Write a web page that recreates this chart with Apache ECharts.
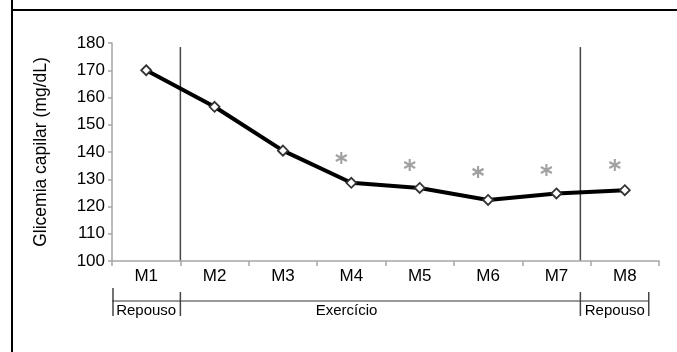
<!DOCTYPE html>
<html>
<head>
<meta charset="utf-8">
<script src="https://cdn.jsdelivr.net/npm/echarts@6/dist/echarts.min.js"></script>
<style>html,body{margin:0;padding:0;background:#fff}#c{width:677px;height:352px}</style>
</head>
<body>
<div id="c"></div>
<script>
var categories = ['M1','M2','M3','M4','M5','M6','M7','M8'];
var glicemia = [170, 156.6, 140.5, 128.7, 126.8, 122.4, 124.8, 126.0];
var asteriskY = [null, null, null, 137.8, 135.2, 132.7, 133.4, 135.2];
var yTicks = {min: 100, max: 180, interval: 10};
var phaseLabels = ['Repouso', 'Exercício', 'Repouso'];
var yTitle = 'Glicemia capilar (mg/dL)';

var chart = echarts.init(document.getElementById('c'), null, {renderer: 'canvas'});
var FONT = 'Liberation Sans';
var asteriskPath = 'path://M0,-5L0,5M-4.33,-2.5L4.33,2.5M-4.33,2.5L4.33,-2.5';

chart.setOption({
  animation: false,
  textStyle: {fontFamily: FONT},
  grid: {left: 112, right: 18, top: 43, bottom: 91},
  xAxis: {
    type: 'category',
    data: categories,
    boundaryGap: true,
    axisLine: {lineStyle: {color: '#a6a6a6', width: 1.5}},
    axisTick: {show: true, length: 5, lineStyle: {color: '#a6a6a6', width: 1.5}},
    axisLabel: {color: '#000', fontSize: 17, margin: 7}
  },
  yAxis: {
    type: 'value',
    min: yTicks.min, max: yTicks.max, interval: yTicks.interval,
    name: yTitle,
    nameLocation: 'middle',
    nameGap: 62,
    nameRotate: 90,
    nameTextStyle: {color: '#000', fontSize: 17.5, fontFamily: FONT},
    axisLine: {show: true, lineStyle: {color: '#a6a6a6', width: 1.5}},
    axisTick: {show: true, length: 4, lineStyle: {color: '#a6a6a6', width: 1.5}},
    splitLine: {show: false},
    axisLabel: {color: '#000', fontSize: 17, margin: 7}
  },
  series: [
    {
      type: 'line',
      data: glicemia,
      symbol: 'diamond',
      symbolSize: 10,
      lineStyle: {color: '#000', width: 4},
      itemStyle: {color: '#fff', borderColor: '#333', borderWidth: 1.8},
      z: 3
    },
    {
      type: 'scatter',
      data: asteriskY,
      symbol: asteriskPath,
      symbolSize: [11, 12],
      symbolOffset: [-10, 0],
      itemStyle: {color: 'none', borderColor: '#8a8a8a', borderWidth: 2.2},
      z: 2
    }
  ]
});

function px(i) { return chart.convertToPixel({xAxisIndex: 0}, i); }
function py(v) { return chart.convertToPixel({yAxisIndex: 0}, v); }
var band = px(1) - px(0);
var x0 = px(0) - band / 2;
var xSep1 = px(0) + band / 2;
var xSep2 = px(6) + 0.35 * band;
var xEnd = px(7) + 0.35 * band;
var yTop = py(178.5);
var yBase = py(yTicks.min);
var yBr = yBase + 40;

var g = [];
// frame
g.push({type: 'line', shape: {x1: 12, y1: 0, x2: 12, y2: 352}, style: {stroke: '#000', lineWidth: 2}});
g.push({type: 'line', shape: {x1: 12, y1: 10, x2: 677, y2: 10}, style: {stroke: '#000', lineWidth: 2}});
// phase separators
[xSep1, xSep2].forEach(function (x) {
  g.push({type: 'line', shape: {x1: x, y1: yTop, x2: x, y2: yBase}, style: {stroke: '#444', lineWidth: 1.5}});
});
// bracket
g.push({type: 'line', shape: {x1: x0, y1: yBr, x2: xEnd, y2: yBr}, style: {stroke: '#777', lineWidth: 1.5}});
g.push({type: 'line', shape: {x1: x0 + 1, y1: yBr - 13, x2: x0 + 1, y2: yBr + 15}, style: {stroke: '#444', lineWidth: 1.5}});
[xSep1, xSep2, xEnd].forEach(function (x) {
  g.push({type: 'line', shape: {x1: x, y1: yBr - 9, x2: x, y2: yBr + 15}, style: {stroke: '#444', lineWidth: 1.5}});
});
var labelX = [px(0), px(3) - 0.07 * band, px(7) - 10];
phaseLabels.forEach(function (t, i) {
  g.push({type: 'text', x: labelX[i], y: yBr + 10, style: {text: t, fill: '#000', font: '15px "' + FONT + '"', textAlign: 'center', textVerticalAlign: 'middle'}});
});
chart.setOption({graphic: g});
</script>
</body>
</html>
